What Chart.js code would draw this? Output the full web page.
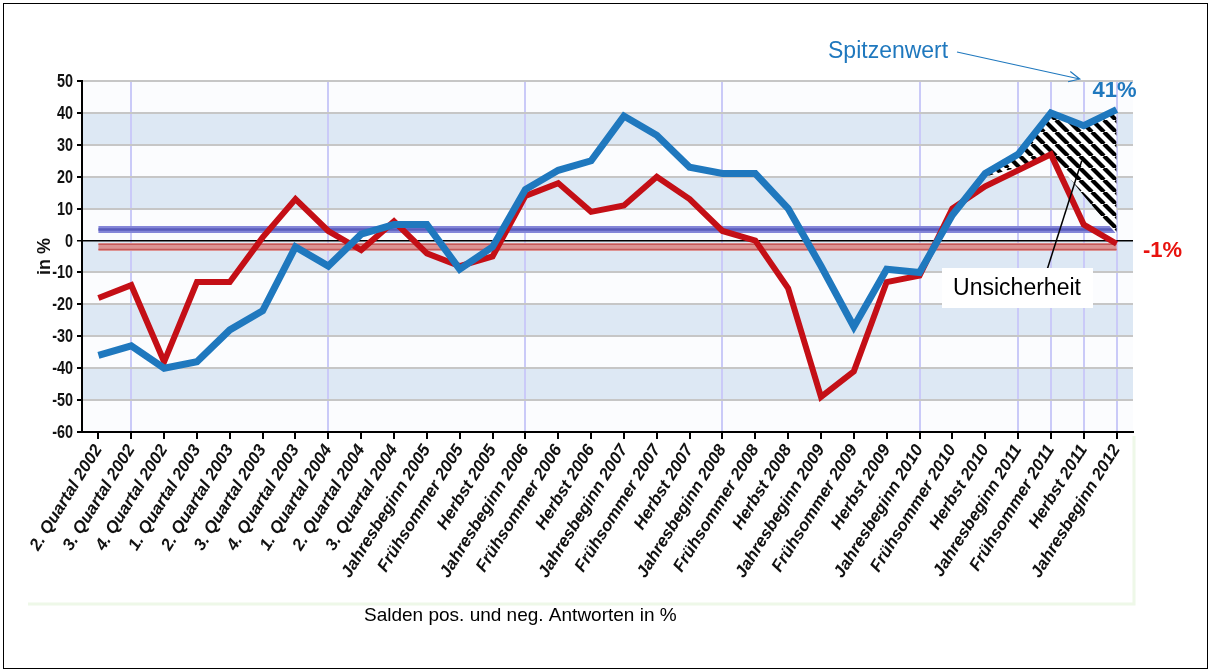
<!DOCTYPE html>
<html>
<head>
<meta charset="utf-8">
<script src="https://cdn.jsdelivr.net/npm/chart.js@4.4.1/dist/chart.umd.min.js"></script>
<style>
  html, body { margin: 0; padding: 0; background: #fff; }
  canvas { display: block; }
</style>
</head>
<body>
<canvas id="chart" width="1211" height="672"></canvas>
<script>
"use strict";

// Categories (x axis)
const _labels = [
  '2. Quartal 2002', '3. Quartal 2002', '4. Quartal 2002', '1. Quartal 2003',
  '2. Quartal 2003', '3. Quartal 2003', '4. Quartal 2003', '1. Quartal 2004',
  '2. Quartal 2004', '3. Quartal 2004', 'Jahresbeginn 2005', 'Frühsommer 2005',
  'Herbst 2005', 'Jahresbeginn 2006', 'Frühsommer 2006', 'Herbst 2006',
  'Jahresbeginn 2007', 'Frühsommer 2007', 'Herbst 2007', 'Jahresbeginn 2008',
  'Frühsommer 2008', 'Herbst 2008', 'Jahresbeginn 2009', 'Frühsommer 2009',
  'Herbst 2009', 'Jahresbeginn 2010', 'Frühsommer 2010', 'Herbst 2010',
  'Jahresbeginn 2011', 'Frühsommer 2011', 'Herbst 2011', 'Jahresbeginn 2012'
];

// Series values, in %
const _values_blue = [-36, -33, -40, -38, -28, -22, -2, -8, 2, 5, 5, -9, -2, 16, 22, 25,
                      39, 33, 23, 21, 21, 10, -8, -27, -9, -10, 8, 21, 27, 40, 36, 41];
const _values_red  = [-18, -14, -38, -13, -13, 1, 13, 3, -3, 6, -4, -8, -5, 14, 18, 9,
                      11, 20, 13, 3, 0, -15, -49, -41, -13, -11, 10, 17, 22, 27, 5, -1];

// "Unsicherheit" area: starts at this category, lower edge values
const _uncertainty_start = 27;
const _uncertainty_low = [20, 23, 27, 14, 2];

// Average levels (horizontal bands)
const _avg_blue = 3.5;
const _avg_red = -2;

// Y ticks
const _y_min = -60;
const _y_max = 50;
const _y_step = 10;

// Categories that get a vertical guide line
const _guide_idx = [1, 7, 13, 19, 25, 28, 29, 30, 31];

// shaded stripes of the plot (value ranges)
const _shaded = [[40, 30], [20, 10], [0, -10], [-20, -30], [-40, -50]];

const BLUE = '#1f78be';
const RED = '#c40f16';
const SANS = "'Liberation Sans', Arial, sans-serif";


// hatch pattern for the uncertainty area
function _make_hatch() {
  let _s = 12;
  let _c = document.createElement('canvas');
  _c.width = _s; _c.height = _s;
  let _x = _c.getContext('2d');
  _x.fillStyle = '#fff';
  _x.fillRect(0, 0, _s, _s);
  _x.strokeStyle = '#000';
  _x.lineWidth = 4.2;
  [-_s, 0, _s].forEach(function(_k) {
    _x.beginPath();
    _x.moveTo(_k, 0);
    _x.lineTo(_k + _s, _s);
    _x.stroke();
  });
  return _x.createPattern(_c, 'repeat');
}

let _hatch_top = _values_blue.map(function(_v, _i) { return _i >= _uncertainty_start ? _v : null; });
let _hatch_low = _labels.map(function(_l, _i) {
  return _i >= _uncertainty_start ? _uncertainty_low[_i - _uncertainty_start] : null;
});


// Background stripes, drawn under the grid
const _bands_plugin = {
  id: 'bands',
  beforeDraw(chart) {
    const {ctx, chartArea, scales} = chart;
    const _y = scales.y;
    ctx.save();
    ctx.fillStyle = '#fbfcfe';
    ctx.fillRect(chartArea.left, chartArea.top, chartArea.width, chartArea.height);
    ctx.fillStyle = '#dde8f4';
    _shaded.forEach(function(_r) {
      let _y1 = _y.getPixelForValue(_r[0]);
      let _y2 = _y.getPixelForValue(_r[1]);
      ctx.fillRect(chartArea.left, _y1, chartArea.width, _y2 - _y1);
    });
    // faint edges of the pasted picture
    ctx.strokeStyle = '#eef8e8';
    ctx.lineWidth = 3;
    ctx.beginPath();
    ctx.moveTo(28, 604);
    ctx.lineTo(1134, 604);
    ctx.lineTo(1134, 436);
    ctx.stroke();
    ctx.restore();
  }
};

// Average bands, drawn under the series
const _avg_plugin = {
  id: 'avg',
  beforeDatasetsDraw(chart) {
    const {ctx, scales} = chart;
    let _x0 = scales.x.getPixelForValue(0);
    let _x1 = scales.x.getPixelForValue(_labels.length - 1);
    let _yb = scales.y.getPixelForValue(_avg_blue);
    let _yr = scales.y.getPixelForValue(_avg_red);
    function _line(_yy, _w, _col) {
      ctx.beginPath();
      ctx.strokeStyle = _col;
      ctx.lineWidth = _w;
      ctx.moveTo(_x0, _yy);
      ctx.lineTo(_x1, _yy);
      ctx.stroke();
    }
    ctx.save();
    _line(_yb, 7, '#8486d8');
    _line(_yb, 2.5, '#5a5cbc');
    _line(_yr, 8, '#dc9494');
    _line(_yr - 2.5, 1.2, '#c45a5a');
    _line(_yr + 2.5, 1.2, '#c45a5a');
    ctx.restore();
  }
};

// Y tick labels in a narrow face, texts and arrows
const _notes_plugin = {
  id: 'notes',
  afterDraw(chart) {
    const {ctx, scales} = chart;
    const _x = scales.x, _y = scales.y;
    let _last = _labels.length - 1;
    let _xl = _x.getPixelForValue(_last);
    ctx.save();

    // y tick labels (condensed)
    ctx.font = 'bold 18px ' + SANS;
    ctx.fillStyle = '#111';
    ctx.textAlign = 'right';
    ctx.textBaseline = 'middle';
    _y.ticks.forEach(function(_t) {
      ctx.save();
      ctx.translate(_y.left + _y.width - 9, _y.getPixelForValue(_t.value) + 1);
      ctx.scale(0.8, 1);
      ctx.fillText(String(_t.value), 0, 0);
      ctx.restore();
    });

    // Spitzenwert + arrow
    ctx.font = '23px ' + SANS;
    ctx.fillStyle = BLUE;
    ctx.textAlign = 'left';
    ctx.fillText('Spitzenwert', 828, 52);
    let _tx = _x.getPixelForValue(_last - 1) - 4;
    let _ty = _y.getPixelForValue(_y_max) - 2;
    ctx.strokeStyle = BLUE;
    ctx.lineWidth = 1.2;
    ctx.beginPath();
    ctx.moveTo(957, 52);
    ctx.lineTo(_tx, _ty);
    let _a = Math.atan2(_ty - 52, _tx - 957);
    ctx.moveTo(_tx - 12 * Math.cos(_a - 0.45), _ty - 12 * Math.sin(_a - 0.45));
    ctx.lineTo(_tx, _ty);
    ctx.lineTo(_tx - 12 * Math.cos(_a + 0.45), _ty - 12 * Math.sin(_a + 0.45));
    ctx.stroke();

    // end values
    ctx.font = 'bold 22px ' + SANS;
    ctx.textAlign = 'center';
    ctx.fillStyle = BLUE;
    ctx.fillText(_values_blue[_last] + '%', _xl - 2, _y.getPixelForValue(_values_blue[_last]) - 19);
    ctx.fillStyle = '#e8120e';
    ctx.fillText(_values_red[_last] + '%', _xl + 46, _y.getPixelForValue(_values_red[_last]) + 7);

    // Unsicherheit
    ctx.strokeStyle = '#000';
    ctx.lineWidth = 1.5;
    ctx.beginPath();
    ctx.moveTo(1047, 270);
    ctx.lineTo(_x.getPixelForValue(_last - 1) - 2, _y.getPixelForValue(25));
    ctx.stroke();
    ctx.fillStyle = '#fff';
    ctx.fillRect(942, 268, 151, 40);
    ctx.fillStyle = '#000';
    ctx.font = '23px ' + SANS;
    ctx.fillText('Unsicherheit', 1017, 289);

    // subtitle
    ctx.font = '19px ' + SANS;
    ctx.textAlign = 'left';
    ctx.fillText('Salden pos. und neg. Antworten in %', 364, 616);

    // frame
    ctx.strokeStyle = '#000';
    ctx.lineWidth = 1;
    ctx.strokeRect(3.5, 3.5, 1204, 665);
    ctx.restore();
  }
};


let _hatch = _make_hatch();

let _chart = new Chart(document.getElementById('chart'), {
  type: 'line',
  data: {
    labels: _labels,
    datasets: [
      { label: 'blau', data: _values_blue, borderColor: BLUE, borderWidth: 7, pointRadius: 0, order: 0, fill: false },
      { label: 'rot', data: _values_red, borderColor: RED, borderWidth: 6, pointRadius: 0, order: 1, fill: false },
      { label: 'unsicher_oben', data: _hatch_top, borderWidth: 0, borderColor: 'rgba(0,0,0,0)',
        backgroundColor: _hatch, pointRadius: 0, order: 2, fill: 3 },
      { label: 'unsicher_unten', data: _hatch_low, borderWidth: 0, borderColor: 'rgba(0,0,0,0)',
        pointRadius: 0, order: 3, fill: false }
    ]
  },
  options: {
    responsive: false,
    animation: false,
    devicePixelRatio: 1,
    layout: { padding: { left: 32, right: 78, top: 81, bottom: 0 } },
    plugins: {
      legend: { display: false },
      tooltip: { enabled: false }
    },
    scales: {
      x: {
        offset: true,
        afterFit: function(_s) { _s.height = 240; },
        border: { color: '#000', width: 2 },
        grid: {
          offset: false,
          lineWidth: 2,
          color: function(_c) { return _guide_idx.indexOf(_c.index) >= 0 ? '#cacaf8' : 'rgba(0,0,0,0)'; },
          tickColor: '#000',
          tickLength: 7
        },
        ticks: {
          autoSkip: false,
          minRotation: 58,
          maxRotation: 58,
          padding: 2,
          color: '#111',
          font: { family: SANS, size: 17, weight: 'bold', style: 'italic' }
        }
      },
      y: {
        min: _y_min,
        max: _y_max,
        afterFit: function(_s) { _s.width = 50; },
        border: { color: '#000', width: 2 },
        grid: {
          color: function(_c) { return _c.tick && _c.tick.value === 0 ? '#000' : '#c6c6c6'; },
          lineWidth: function(_c) { return _c.tick && _c.tick.value === 0 ? 1.5 : 2; },
          tickColor: '#000',
          tickLength: 5
        },
        ticks: {
          stepSize: _y_step,
          padding: 4,
          color: 'rgba(0,0,0,0)',
          font: { family: SANS, size: 18, weight: 'bold' }
        },
        title: {
          display: true,
          text: 'in %',
          color: '#111',
          padding: { top: 2, bottom: 0 },
          font: { family: SANS, size: 18, weight: 'bold' }
        }
      }
    }
  },
  plugins: [_bands_plugin, _avg_plugin, _notes_plugin]
});
</script>
</body>
</html>
